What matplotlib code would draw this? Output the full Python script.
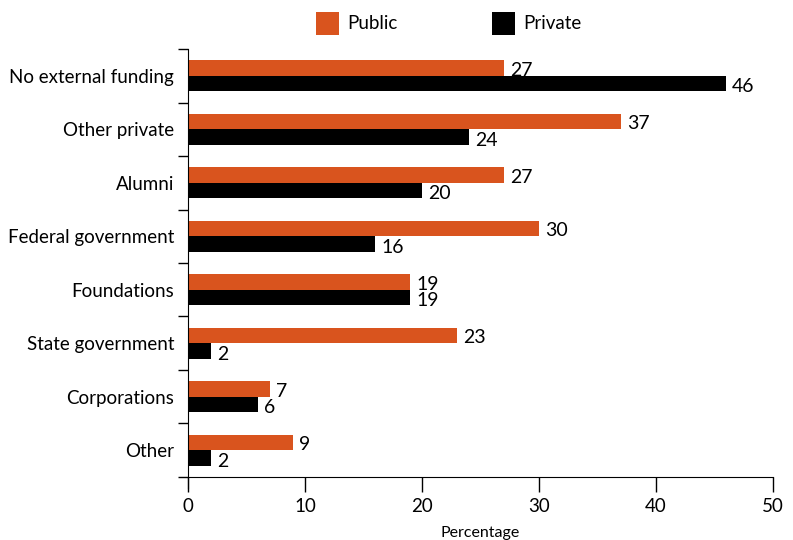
import numpy
import matplotlib
matplotlib.use('Agg')
from matplotlib import pyplot as plt
from matplotlib.patches import Patch

plt.rcParams['font.family'] = ['Lato', 'DejaVu Sans']

_categories = ['No external funding', 'Other private', 'Alumni', 'Federal government',
               'Foundations', 'State government', 'Corporations', 'Other']
_public = [27, 37, 27, 30, 19, 23, 7, 9]
_private = [46, 24, 20, 16, 19, 2, 6, 2]
_series_names = ['Public', 'Private']
_colors = {'Public': '#d9541e', 'Private': '#000000'}

_bar_height = 0.29


def draw_chart():
    fig = plt.figure(figsize=(7.93, 5.40), dpi=100)
    ax = fig.add_axes([0.237, 0.117, 0.738, 0.792])

    centers = numpy.arange(len(_categories))
    ax.barh(centers - _bar_height/2, _public, height=_bar_height, color=_colors['Public'])
    ax.barh(centers + _bar_height/2, _private, height=_bar_height, color=_colors['Private'])

    for y, val in zip(centers - _bar_height/2, _public):
        ax.text(val + 0.5, y + 0.04, str(val), va='center', ha='left', fontsize=14)
    for y, val in zip(centers + _bar_height/2, _private):
        ax.text(val + 0.5, y + 0.06, str(val), va='center', ha='left', fontsize=14)

    ax.set_ylim(len(_categories) - 0.5, -0.5)
    ax.set_xlim(0, 50)

    # category names sit between the boundary ticks
    ax.set_yticks(centers)
    ax.set_yticklabels(_categories, fontsize=13.5)
    ax.tick_params(axis='y', which='major', length=0, pad=10)
    ax.set_yticks(numpy.arange(len(_categories) + 1) - 0.5, minor=True)
    ax.tick_params(axis='y', which='minor', length=7, width=1, direction='out')

    ax.set_xticks(numpy.arange(0, 51, 10))
    ax.tick_params(axis='x', length=11, width=1, direction='out', labelsize=13.5, pad=4)
    ax.set_xlabel('Percentage', fontsize=11.5, labelpad=0)
    ax.xaxis.set_label_coords(0.5, -0.115)

    for side in ['top', 'right']:
        ax.spines[side].set_visible(False)
    ax.spines['left'].set_bounds(len(_categories) - 0.5 + 0.2, -0.5)

    handles = [Patch(facecolor=_colors[n], edgecolor='none') for n in _series_names]
    fig.legend(handles, _series_names, loc='center', bbox_to_anchor=(0.566, 0.957),
               ncol=2, frameon=False, fontsize=13.5, handlelength=1.2, handleheight=1.5,
               handletextpad=0.45, columnspacing=5.05)

    fig.savefig('out.png', dpi=100)
    plt.close()


draw_chart()
